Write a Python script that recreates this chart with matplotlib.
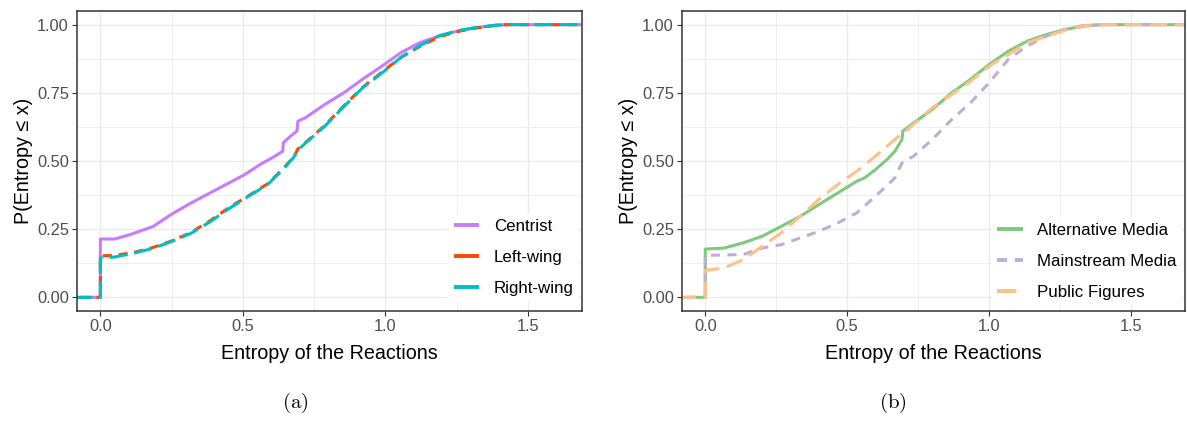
import matplotlib
matplotlib.use("Agg")
import matplotlib.pyplot as plt
from matplotlib.lines import Line2D
from matplotlib.ticker import MultipleLocator

plt.rcParams["font.family"] = ["Liberation Sans", "DejaVu Sans"]
plt.rcParams["mathtext.fontset"] = "cm"

# ---- ECDF of reaction entropy, panel (a): political leaning ----
centrist_x = [0, 0, 0.05, 0.104, 0.185, 0.25, 0.318, 0.385, 0.452, 0.506, 0.56,
              0.613, 0.64, 0.642, 0.666, 0.690, 0.693, 0.72, 0.787, 0.854, 0.92,
              0.988, 1.054, 1.121, 1.188, 1.255, 1.32, 1.389, 1.43]
centrist_y = [0, 0.214, 0.214, 0.23, 0.26, 0.305, 0.346, 0.383, 0.42, 0.45, 0.487,
              0.518, 0.536, 0.567, 0.59, 0.61, 0.646, 0.659, 0.707, 0.75, 0.80,
              0.848, 0.897, 0.934, 0.958, 0.977, 0.989, 0.998, 1.0]

left_x = [0, 0, 0.05, 0.118, 0.185, 0.25, 0.318, 0.385, 0.452, 0.519, 0.586,
          0.64, 0.68, 0.693, 0.72, 0.787, 0.854, 0.92, 0.988, 1.054, 1.121,
          1.188, 1.255, 1.32, 1.389, 1.43]
left_y = [0, 0.152, 0.154, 0.165, 0.183, 0.207, 0.238, 0.281, 0.33, 0.372, 0.416,
          0.47, 0.518, 0.544, 0.568, 0.63, 0.702, 0.77, 0.826, 0.88, 0.92,
          0.955, 0.975, 0.988, 0.998, 1.0]

right_x = [0, 0, 0.05, 0.118, 0.185, 0.25, 0.318, 0.385, 0.452, 0.519, 0.586,
           0.64, 0.68, 0.693, 0.72, 0.787, 0.854, 0.92, 0.988, 1.054, 1.121,
           1.188, 1.255, 1.32, 1.389, 1.43]
right_y = [0, 0.145, 0.148, 0.162, 0.18, 0.205, 0.235, 0.277, 0.326, 0.37, 0.413,
           0.468, 0.516, 0.54, 0.566, 0.627, 0.699, 0.768, 0.823, 0.879, 0.923,
           0.959, 0.978, 0.99, 0.998, 1.0]

# ---- panel (b): type of source ----
alt_x = [0, 0, 0.067, 0.134, 0.2, 0.267, 0.334, 0.4, 0.467, 0.534, 0.561, 0.6,
         0.641, 0.668, 0.693, 0.696, 0.734, 0.8, 0.868, 0.935, 1.0, 1.068,
         1.135, 1.202, 1.27, 1.336, 1.4]
alt_y = [0, 0.177, 0.181, 0.2, 0.224, 0.26, 0.297, 0.34, 0.383, 0.426, 0.438,
         0.469, 0.506, 0.536, 0.579, 0.61, 0.64, 0.689, 0.75, 0.80, 0.854, 0.903,
         0.94, 0.964, 0.983, 0.995, 1.0]

main_x = [0, 0, 0.134, 0.2, 0.267, 0.334, 0.4, 0.467, 0.534, 0.6, 0.668, 0.693,
          0.734, 0.8, 0.868, 0.935, 1.0, 1.068, 1.135, 1.202, 1.27, 1.336, 1.4]
main_y = [0, 0.154, 0.157, 0.181, 0.193, 0.218, 0.242, 0.273, 0.31, 0.371, 0.438,
          0.493, 0.518, 0.579, 0.652, 0.714, 0.787, 0.873, 0.922, 0.958, 0.983,
          0.998, 1.0]

pub_x = [0, 0, 0.067, 0.134, 0.2, 0.267, 0.334, 0.4, 0.467, 0.534, 0.6, 0.668,
         0.72, 0.8, 0.868, 0.935, 1.0, 1.068, 1.135, 1.202, 1.27, 1.336, 1.4]
pub_y = [0, 0.099, 0.108, 0.138, 0.187, 0.236, 0.297, 0.359, 0.414, 0.463, 0.518,
         0.579, 0.622, 0.695, 0.744, 0.793, 0.848, 0.891, 0.934, 0.958, 0.98,
         0.995, 1.0]

x_ticks = [0.0, 0.5, 1.0, 1.5]
x_tick_labels = ["0.0", "0.5", "1.0", "1.5"]
y_ticks = [0.0, 0.25, 0.5, 0.75, 1.0]
y_tick_labels = ["0.00", "0.25", "0.50", "0.75", "1.00"]
XLIM = (-0.081, 1.69)
YLIM = (-0.05, 1.05)

panel_a = [
    ("Centrist", centrist_x, centrist_y, "#C77CFF", None),
    ("Left-wing", left_x, left_y, "#FF4500", (3.0, 2.2)),
    ("Right-wing", right_x, right_y, "#00BFC4", (6.0, 2.2)),
]
panel_b = [
    ("Alternative Media", alt_x, alt_y, "#7FC97F", None),
    ("Mainstream Media", main_x, main_y, "#BEAED4", (3.0, 2.4)),
    ("Public Figures", pub_x, pub_y, "#FDC086", (5.6, 2.6)),
]

fig = plt.figure(figsize=(11.87, 4.24), dpi=100)
ax_a = fig.add_axes([0.0651, 0.2665, 0.4252, 0.7075])
ax_b = fig.add_axes([0.5748, 0.2665, 0.4235, 0.7075])

LW = 2.2
TITLE_SIZE = 14.2
TICK_SIZE = 11.8
LEGEND_SIZE = 12.2


def style_axes(ax):
    ax.set_xlim(*XLIM)
    ax.set_ylim(*YLIM)
    ax.set_xticks(x_ticks)
    ax.set_xticklabels(x_tick_labels)
    ax.set_yticks(y_ticks)
    ax.set_yticklabels(y_tick_labels)
    ax.xaxis.set_minor_locator(MultipleLocator(0.25))
    ax.yaxis.set_minor_locator(MultipleLocator(0.125))
    ax.grid(which="major", color="#EBEBEB", lw=1.0)
    ax.grid(which="minor", color="#EBEBEB", lw=0.6)
    ax.set_axisbelow(True)
    ax.tick_params(which="major", length=3.5, width=0.8, color="#333333",
                   labelcolor="#4D4D4D", labelsize=TICK_SIZE, pad=2.5)
    ax.tick_params(which="minor", length=0)
    for s in ax.spines.values():
        s.set_color("#333333")
        s.set_linewidth(1.1)
    ax.set_xlabel("Entropy of the Reactions", fontsize=TITLE_SIZE, labelpad=7)
    ax.set_ylabel("P(Entropy \u2264 x)", fontsize=TITLE_SIZE, labelpad=3)


def draw_panel(ax, series, legend_dashes, legend_y):
    handles = []
    for (name, xs, ys, color, dashes), ldash in zip(series, legend_dashes):
        px = [XLIM[0] - 0.1] + list(xs) + [XLIM[1] + 0.1]
        py = [0.0] + list(ys) + [1.0]
        kw = dict(color=color, lw=LW, solid_capstyle="butt", dash_capstyle="butt")
        if dashes is not None:
            kw["dashes"] = dashes
        ax.plot(px, py, **kw)
        hkw = dict(color=color, lw=LW + 0.6, solid_capstyle="butt",
                   dash_capstyle="butt")
        if ldash is not None:
            hkw["dashes"] = ldash
        handles.append(Line2D([], [], **hkw))
    leg = ax.legend(handles, [s[0] for s in series], loc="lower right",
                    bbox_to_anchor=(1.0, legend_y), fontsize=LEGEND_SIZE,
                    frameon=True, facecolor="white", edgecolor="none",
                    framealpha=1.0, fancybox=False, handlelength=1.5,
                    handletextpad=0.85, labelspacing=0.95, borderpad=0.3,
                    borderaxespad=0.2)
    return leg


style_axes(ax_a)
style_axes(ax_b)
draw_panel(ax_a, panel_a, [None, None, None], 0.022)
draw_panel(ax_b, panel_b, [None, (2.6, 2.0), (5.0, 5.0)], 0.008)

fig.text(0.249, 0.05, r"$\mathrm{(a)}$", ha="center", va="center", fontsize=15)
fig.text(0.752, 0.05, r"$\mathrm{(b)}$", ha="center", va="center", fontsize=15)

fig.savefig("out.png", dpi=100)
